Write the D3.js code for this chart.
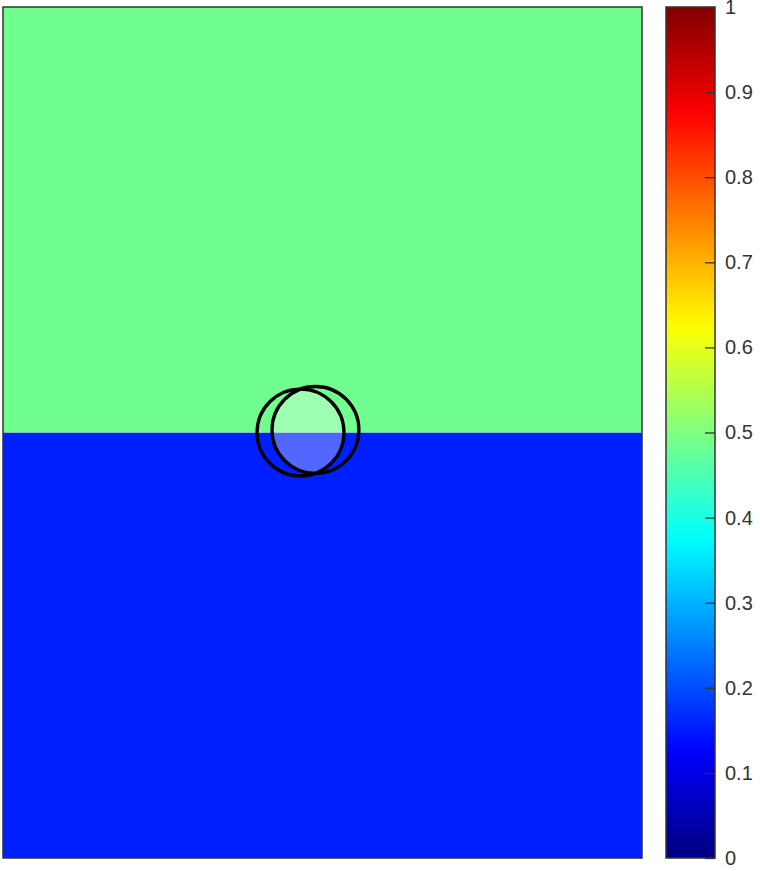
<!DOCTYPE html>
<html>
<head>
<meta charset="utf-8">
<script src="https://cdn.jsdelivr.net/npm/d3@7"></script>
<style>
  body { margin: 0; background: #fff; }
  svg { display: block; }
</style>
</head>
<body>
<div class="chart"></div>
<script>
// field: two horizontal bands (y0..y1, value)
var bandY0 = [0, 0.5];
var bandY1 = [0.5, 1];
var bandValue = [0.155, 0.485];
// the two circles
var circleX = [0.4656, 0.489];
var circleY = [0.5, 0.503];
var circleR = [0.068, 0.068];
// colorbar ticks
var cbTicks = [0, 0.1, 0.2, 0.3, 0.4, 0.5, 0.6, 0.7, 0.8, 0.9, 1];

function jet(v){
    var c = function(t){ return Math.max(0, Math.min(1, t)); };
    var r = c(1.5 - Math.abs(4*v - 3));
    var g = c(1.5 - Math.abs(4*v - 2));
    var b = c(1.5 - Math.abs(4*v - 1));
    return d3.rgb(r*255, g*255, b*255).toString();
}

var W = 760, H = 871;
var plotL = 3, plotR = 642, plotT = 7, plotB = 858;
var cbL = 666, cbR = 715;

var svg = d3.select("div.chart")
    .append("svg")
    .attr("width", W)
    .attr("height", H);

var x = d3.scaleLinear().domain([0, 1]).range([plotL, plotR]);
var y = d3.scaleLinear().domain([0, 1]).range([plotB, plotT]);
var cy = d3.scaleLinear().domain([0, 1]).range([plotB, plotT]);

// bands
svg.selectAll("rect.band")
    .data(bandValue)
    .enter().append("rect")
    .attr("class", "band")
    .attr("x", x(0))
    .attr("width", x(1) - x(0))
    .attr("y", function(d, i){ return y(bandY1[i]); })
    .attr("height", function(d, i){ return y(bandY0[i]) - y(bandY1[i]); })
    .attr("fill", function(d){ return jet(d); });

// intersection of the circles, lighter
var defs = svg.append("defs");
defs.append("clipPath").attr("id", "clipA")
    .append("circle")
    .attr("cx", x(circleX[0]))
    .attr("cy", y(circleY[0]))
    .attr("r", x(circleR[0]) - x(0));
svg.append("circle")
    .attr("clip-path", "url(#clipA)")
    .attr("cx", x(circleX[1]))
    .attr("cy", y(circleY[1]))
    .attr("r", x(circleR[1]) - x(0))
    .attr("fill", "#fff")
    .attr("fill-opacity", 0.32);

svg.selectAll("circle.ring")
    .data(circleX)
    .enter().append("circle")
    .attr("class", "ring")
    .attr("cx", function(d){ return x(d); })
    .attr("cy", function(d, i){ return y(circleY[i]); })
    .attr("r", function(d, i){ return x(circleR[i]) - x(0); })
    .attr("fill", "none")
    .attr("stroke", "#000")
    .attr("stroke-width", 3.3);

// plot frame
svg.append("rect")
    .attr("x", plotL).attr("y", plotT)
    .attr("width", plotR - plotL).attr("height", plotB - plotT)
    .attr("fill", "none")
    .attr("stroke", "#333")
    .attr("stroke-width", 1.5);

// colorbar
var grad = defs.append("linearGradient")
    .attr("id", "jetGrad")
    .attr("x1", 0).attr("y1", 1).attr("x2", 0).attr("y2", 0);
d3.range(0, 1.0001, 0.02).forEach(function(v){
    grad.append("stop").attr("offset", v).attr("stop-color", jet(v));
});
svg.append("rect")
    .attr("x", cbL).attr("y", plotT)
    .attr("width", cbR - cbL).attr("height", plotB - plotT)
    .attr("fill", "url(#jetGrad)")
    .attr("stroke", "#333")
    .attr("stroke-width", 1.5);

var cbAxis = d3.axisRight(cy)
    .tickValues(cbTicks)
    .tickFormat(d3.format("~g"))
    .tickSizeInner(-10)
    .tickSizeOuter(0)
    .tickPadding(10);
var g = svg.append("g")
    .attr("transform", "translate(" + cbR + ",0)")
    .call(cbAxis);
g.select(".domain").remove();
g.selectAll(".tick line").attr("stroke", "#333").attr("stroke-width", 1.3);
g.selectAll(".tick text")
    .attr("font-family", "Liberation Sans, Arial, sans-serif")
    .attr("font-size", "20px")
    .attr("fill", "#333");
</script>
</body>
</html>
